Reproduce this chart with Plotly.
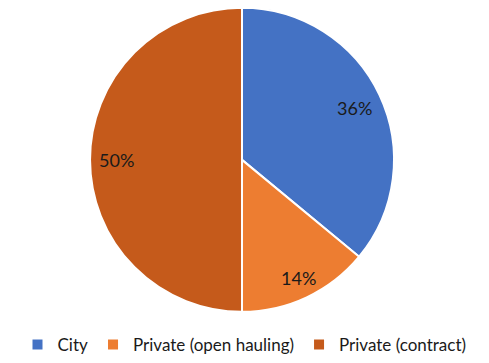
import math
import plotly.graph_objects as go

categories = ["City", "Private (open hauling)", "Private (contract)"]
values = [36, 14, 50]
colors = ["#4472C4", "#ED7D31", "#C55A1B"]
label_radius = [0.80, 0.86, 0.81]  # fraction of pie radius for label placement

W, H = 489, 363
x0, x1 = 87, 397
y0, y1 = 8, 318
cx, cy = (x0 + x1) / 2, (y0 + y1) / 2
R = (x1 - x0) / 2

fig = go.Figure(go.Pie(
    labels=categories,
    values=values,
    sort=False,
    direction="clockwise",
    rotation=0,
    marker=dict(colors=colors, line=dict(color="white", width=2)),
    textinfo="none",
    domain=dict(x=[x0 / W, x1 / W], y=[(H - y1) / H, (H - y0) / H]),
    hoverinfo="label+percent",
))

total = sum(values)
cum = 0
for v, rf in zip(values, label_radius):
    mid = (cum + v / 2) / total * 2 * math.pi
    cum += v
    px = cx + rf * R * math.sin(mid)
    py = cy - rf * R * math.cos(mid)
    fig.add_annotation(x=px / W, y=1 - py / H, xref="paper", yref="paper",
                       xanchor="center", yanchor="middle",
                       text=f"{round(v / total * 100)}%", showarrow=False,
                       font=dict(family="Lato, sans-serif", size=18, color="#1a1a1a"))

fig.update_layout(
    width=W, height=H,
    margin=dict(l=0, r=0, t=0, b=0),
    paper_bgcolor="white",
    showlegend=True,
    legend=dict(orientation="h", x=0.5, xanchor="center", y=(H - 352) / H, yanchor="middle",
                font=dict(family="Lato, sans-serif", size=17, color="#1a1a1a"),
                itemwidth=30, tracegroupgap=0),
)
fig.write_html("out.html")
